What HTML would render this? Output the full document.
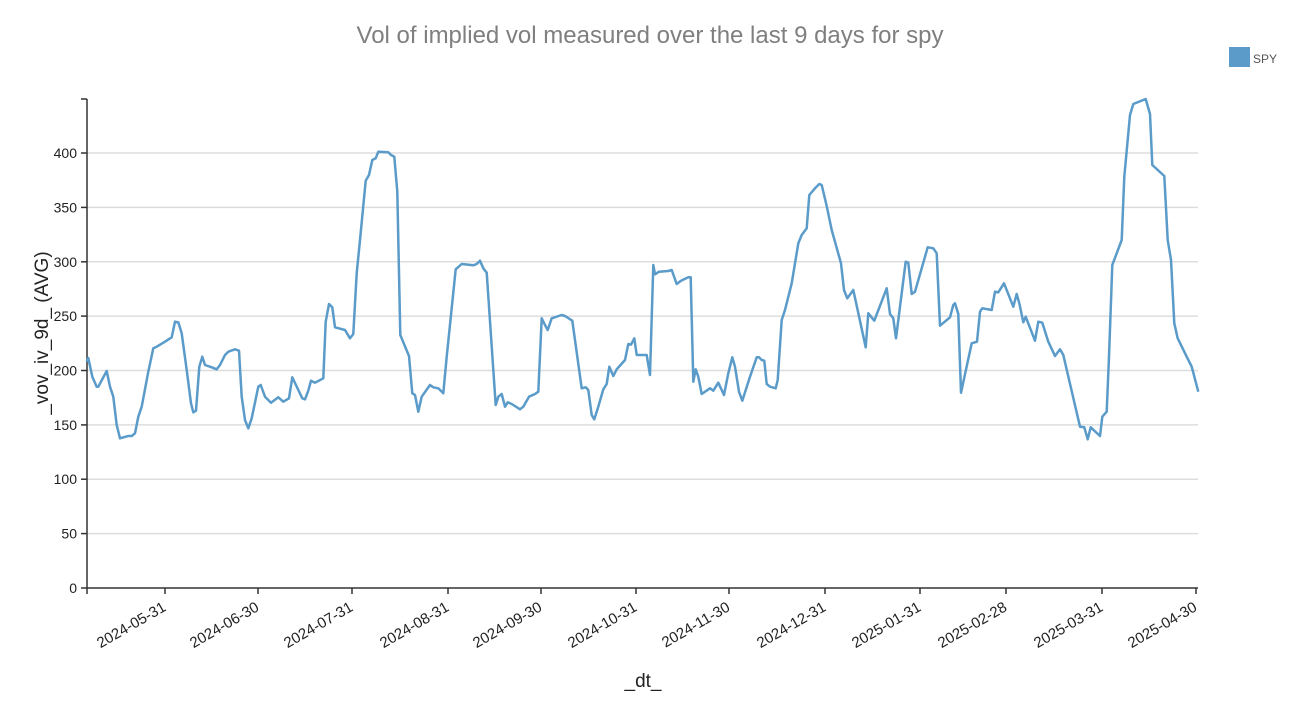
<!DOCTYPE html><html><head><style>body{margin:0;background:#fff}svg{font-family:"Liberation Sans",sans-serif}</style></head><body>
<svg width="1292" height="713" viewBox="0 0 1292 713">
<text x="650" y="43" text-anchor="middle" font-size="24" fill="#7f7f7f">Vol of implied vol measured over the last 9 days for spy</text>
<rect x="1229" y="47" width="21" height="20" fill="#5a9bc9"/>
<text x="1253" y="63" font-size="12" fill="#555">SPY</text>
<g stroke="#ddd" stroke-width="1.5">
<line x1="87" x2="1198" y1="533.6" y2="533.6"/><line x1="87" x2="1198" y1="479.2" y2="479.2"/><line x1="87" x2="1198" y1="424.9" y2="424.9"/><line x1="87" x2="1198" y1="370.5" y2="370.5"/><line x1="87" x2="1198" y1="316.1" y2="316.1"/><line x1="87" x2="1198" y1="261.8" y2="261.8"/><line x1="87" x2="1198" y1="207.4" y2="207.4"/><line x1="87" x2="1198" y1="153" y2="153"/>
</g>
<g stroke="#333" stroke-width="1.5" fill="none">
<line x1="87" y1="99" x2="87" y2="588"/><line x1="87" y1="588" x2="1198" y2="588"/>
<line x1="81" y1="99" x2="87" y2="99"/>
</g>
<g font-size="14" fill="#222" text-anchor="end">
<text x="77" y="593">0</text><text x="77" y="538.6">50</text><text x="77" y="484.2">100</text><text x="77" y="429.9">150</text><text x="77" y="375.5">200</text><text x="77" y="321.1">250</text><text x="77" y="266.8">300</text><text x="77" y="212.4">350</text><text x="77" y="158">400</text>
</g>
<g stroke="#333" stroke-width="1.5">
<line x1="81" x2="87" y1="588" y2="588"/><line x1="81" x2="87" y1="533.6" y2="533.6"/><line x1="81" x2="87" y1="479.2" y2="479.2"/><line x1="81" x2="87" y1="424.9" y2="424.9"/><line x1="81" x2="87" y1="370.5" y2="370.5"/><line x1="81" x2="87" y1="316.1" y2="316.1"/><line x1="81" x2="87" y1="261.8" y2="261.8"/><line x1="81" x2="87" y1="207.4" y2="207.4"/><line x1="81" x2="87" y1="153" y2="153"/>
<line x1="87" x2="87" y1="588" y2="594"/>
<line x1="165" x2="165" y1="588" y2="594"/><line x1="258" x2="258" y1="588" y2="594"/><line x1="352" x2="352" y1="588" y2="594"/><line x1="448" x2="448" y1="588" y2="594"/><line x1="541" x2="541" y1="588" y2="594"/><line x1="636" x2="636" y1="588" y2="594"/><line x1="729" x2="729" y1="588" y2="594"/><line x1="825" x2="825" y1="588" y2="594"/><line x1="920" x2="920" y1="588" y2="594"/><line x1="1006" x2="1006" y1="588" y2="594"/><line x1="1102" x2="1102" y1="588" y2="594"/><line x1="1196" x2="1196" y1="588" y2="594"/>
</g>
<g font-size="15" fill="#222" text-anchor="end">
<text transform="translate(167,610) rotate(-30)">2024-05-31</text>
<text transform="translate(260,610) rotate(-30)">2024-06-30</text>
<text transform="translate(354,610) rotate(-30)">2024-07-31</text>
<text transform="translate(450,610) rotate(-30)">2024-08-31</text>
<text transform="translate(543,610) rotate(-30)">2024-09-30</text>
<text transform="translate(638,610) rotate(-30)">2024-10-31</text>
<text transform="translate(731,610) rotate(-30)">2024-11-30</text>
<text transform="translate(827,610) rotate(-30)">2024-12-31</text>
<text transform="translate(922,610) rotate(-30)">2025-01-31</text>
<text transform="translate(1008,610) rotate(-30)">2025-02-28</text>
<text transform="translate(1104,610) rotate(-30)">2025-03-31</text>
<text transform="translate(1198,610) rotate(-30)">2025-04-30</text>
</g>
<text x="643" y="687" text-anchor="middle" font-size="19" fill="#222">_dt_</text>
<text transform="translate(48,333) rotate(-90)" text-anchor="middle" font-size="19" fill="#222">_vov_iv_9d_ (AVG)</text>
<polyline fill="none" stroke="#5a9bc9" stroke-width="2.5" stroke-linejoin="round" points="86.7,361.7 88.3,358 92.3,376.7 96.7,386.7 98.3,386.7 106.7,371 110,386.7 113.3,396.7 116.7,425 120,438.3 128.3,436 131.7,436 135,433.3 138.3,416.7 141.7,406.7 148.3,371.7 153.3,348.3 156.7,346.7 165,341.7 171.7,337.3 175,321.7 178.3,322.3 181.7,333.3 186.7,370 191,403.3 193.3,412.3 196,410.7 199.3,366.7 202.3,356.7 205,365 210,366.7 216.7,369.3 220,365 225,355 228.3,351.7 235,349.3 239,350.7 241.7,396.7 245,420 248.3,428.3 251.7,418.3 258.3,386.7 260.7,385 265,396.7 271,402.7 278.3,397.3 283.3,401.7 289,398.3 292.3,377.3 298.3,390 302.3,398.3 305,399.3 308.3,390.7 311,380.7 315,382.7 323.3,378.3 325.7,321.7 329,304 332.3,307.3 335,327.3 345,330 350,338.3 353.3,334 356.7,273.3 360,240 365.7,180.7 369,175 372.3,160 375.7,158.3 378.3,151.7 388.3,152.3 391,155 394.3,156.7 397.3,191.7 400.3,335 409,356 412.3,393.3 415,395 418.3,411.7 421.7,396.7 430,385 433.3,387.3 438.3,388.3 443.3,393.3 446.7,356.7 455.7,269.3 461.7,264 473.3,265.3 476.7,264 480,260.7 483.3,268.3 486.7,272.7 495.7,405 498.3,396.7 501.7,394 505,406.7 507.7,402.3 511.7,404 520,409.3 523.3,406.7 529,396.7 535,394 538.3,391.7 541.7,318.3 545,325 547.7,330 551.7,318.3 561.7,315 565,316 572.3,320.7 581.7,388.3 585.7,387.3 588.3,390 591.7,415 594.3,419.3 598.3,406.7 603.3,389.3 606.7,384 609.3,366.7 613.3,376 616.7,369.3 625,360 628.3,344 631,344.7 634.3,338.3 636.7,355 646.7,355 650,375 653.3,265 655,274.3 659,271.7 668.3,271 671.7,270 676.7,284 681,280.7 688.3,277.3 690.7,277.3 693.3,381.7 695.7,369.3 698.3,376.7 701.7,394 710,388.3 713.3,390.7 718.3,382.7 724,395 728.3,373.3 732.3,357.3 735,366.7 739,391.7 742.3,400.7 750,376.7 756.7,357.3 759,357.3 761.7,360 764.3,360.7 766.7,384 770,386.7 775.7,388.3 777.7,380 781.7,320 785,310 791.7,283.3 798.3,243.3 801.7,235 806.7,228.3 809.3,195 815,188.3 819.3,184 821.7,185 826.7,206 831.7,230 841,263.3 844,290 847.3,298.3 853.3,290 865.7,347.3 868.3,313.3 874.3,320.7 886.7,288.3 890,314 893.3,318.3 896,338.3 905.7,261.7 908.3,262.7 911.7,294 915,291.7 927.7,247.3 933.3,248.3 936.7,253.3 940,325.7 950,317.3 953.3,305 955,303.3 958.3,314 961,392.7 971.7,343.3 977,341.7 980,311.7 982.3,308.3 991.7,310 995,291.7 998.3,292.3 1004,283.3 1013.3,306.7 1016.7,294 1019.3,303.3 1023.3,322.3 1025.7,316.7 1035,340.7 1038.3,321.7 1042.3,322.7 1048.3,341.7 1055,356 1060,349.3 1063.3,355 1080,426.7 1084.3,427.3 1087.7,439.3 1090.7,427.3 1100,436 1102.3,416.7 1106.7,411.7 1109,356.7 1112.3,265 1121.7,240 1124.3,176.7 1130,115 1133.3,104 1145.7,99 1150,114 1152.3,165 1164.3,176 1167.7,240 1171,260 1174.3,323.3 1177.7,338.3 1186.7,356.7 1191.7,366.7 1198.3,391.7"/>
</svg>
</body></html>
